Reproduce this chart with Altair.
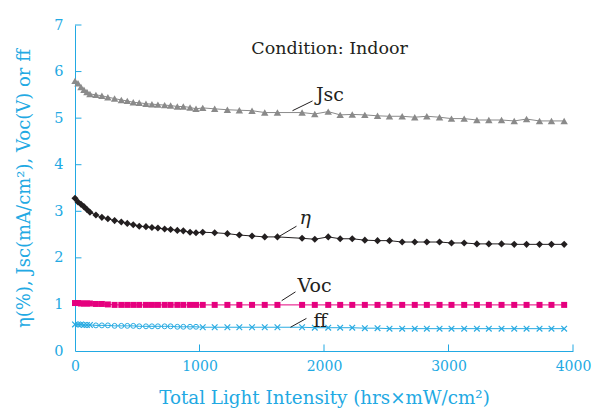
import altair as alt
import pandas as pd

# ---- data ----
intensity = [0, 24, 48, 72, 96, 120, 168, 216, 264, 318, 372, 420, 468, 516, 570, 618,
             666, 720, 768, 822, 870, 924, 972, 1026, 1122, 1224, 1320, 1422, 1524, 1626,
             1824, 1926, 2034, 2130, 2227, 2328, 2430, 2526, 2628, 2729, 2826, 2928, 3024,
             3126, 3228, 3324, 3426, 3528, 3627, 3731, 3827, 3929]

jsc = [5.80, 5.75, 5.67, 5.61, 5.56, 5.52, 5.50, 5.48, 5.45, 5.42, 5.39, 5.37, 5.34, 5.33,
       5.31, 5.30, 5.29, 5.28, 5.27, 5.25, 5.25, 5.23, 5.20, 5.22, 5.20, 5.18, 5.17, 5.16,
       5.12, 5.12, 5.12, 5.09, 5.14, 5.07, 5.08, 5.07, 5.05, 5.04, 5.04, 5.02, 5.04, 5.02,
       4.99, 4.99, 4.96, 4.96, 4.96, 4.94, 4.98, 4.94, 4.94, 4.94]

eta = [3.28, 3.20, 3.15, 3.10, 3.04, 2.98, 2.92, 2.87, 2.84, 2.80, 2.77, 2.74, 2.71, 2.68,
       2.67, 2.65, 2.64, 2.62, 2.61, 2.59, 2.58, 2.55, 2.54, 2.55, 2.54, 2.52, 2.49, 2.47,
       2.45, 2.45, 2.42, 2.40, 2.45, 2.41, 2.41, 2.38, 2.37, 2.37, 2.34, 2.34, 2.34, 2.34,
       2.32, 2.32, 2.30, 2.30, 2.30, 2.29, 2.29, 2.29, 2.29, 2.29]

voc = [1.03, 1.03, 1.02, 1.02, 1.02, 1.02, 1.01, 1.01, 1.00, 0.99, 0.99, 0.99, 0.99, 0.99,
       0.99, 0.99, 0.99, 0.99, 0.99, 0.99, 0.99, 0.99, 0.99, 0.99, 0.99, 0.99, 0.99, 0.99,
       0.99, 0.99, 0.99, 0.99, 0.99, 0.99, 0.99, 0.99, 0.99, 0.99, 0.99, 0.99, 0.99, 0.99,
       0.99, 0.99, 0.99, 0.99, 0.99, 0.99, 0.99, 0.99, 0.99, 0.99]

ff = [0.57, 0.57, 0.57, 0.56, 0.56, 0.56, 0.55, 0.55, 0.55, 0.54, 0.54, 0.54, 0.54, 0.53,
      0.53, 0.53, 0.53, 0.53, 0.53, 0.52, 0.52, 0.52, 0.52, 0.51, 0.51, 0.51, 0.51, 0.51,
      0.51, 0.51, 0.51, 0.50, 0.50, 0.50, 0.50, 0.49, 0.49, 0.48, 0.48, 0.48, 0.48, 0.48,
      0.48, 0.48, 0.48, 0.48, 0.48, 0.48, 0.48, 0.48, 0.48, 0.48]

x_ticks = [0, 1000, 2000, 3000, 4000]
y_ticks = [0, 1, 2, 3, 4, 5, 6, 7]

# annotations (data coordinates)
ann_text = ["Jsc", "η", "Voc", "ff"]
ann_tx = [1935, 1803, 1787, 1915]
ann_ty = [5.36, 2.72, 1.26, 0.51]
lead_x = [1747, 1627, 1660, 1731]
lead_y = [5.16, 2.44, 1.08, 0.51]
lead_x2 = [1908, 1779, 1771, 1859]
lead_y2 = [5.37, 2.68, 1.27, 0.70]
cond_text = "Condition: Indoor"
cond_x, cond_y = 2045, 6.37

BLUE = "#22a9e3"
FONT = "DejaVu Serif"

df = pd.DataFrame({"x": intensity, "jsc": jsc, "eta": eta, "voc": voc, "ff": ff})

xs = alt.Scale(domain=[0, 4000], nice=False)
ys = alt.Scale(domain=[0, 7], nice=False)

X = alt.X("x:Q", scale=xs, axis=alt.Axis(
    values=x_ticks, format="d", ticks=False, grid=False, domainColor=BLUE, domainWidth=1,
    labelColor=BLUE, labelFont=FONT, labelFontSize=14, labelPadding=8, labelFlush=False,
    title="Total Light Intensity (hrs×mW/cm²)", titleColor=BLUE, titleFont=FONT,
    titleFontSize=18.3, titleFontWeight="normal", titlePadding=16))


def Y(field):
    return alt.Y(field, type="quantitative", scale=ys, axis=alt.Axis(
        values=y_ticks, format="d", ticks=False, grid=False, domainColor=BLUE, domainWidth=1,
        labelColor=BLUE, labelFont=FONT, labelFontSize=14.5, labelPadding=12,
        labelFlush=False,
        title="η(%), Jsc(mA/cm²), Voc(V) or ff", titleColor=BLUE, titleFont=FONT,
        titleFontSize=18, titleFontWeight="normal", titlePadding=20))


base = alt.Chart(df)

# inward tick marks
ytick_df = pd.DataFrame({"v": y_ticks[1:]})
ytick = alt.Chart(ytick_df).mark_rule(color=BLUE, strokeWidth=1).encode(
    x=alt.datum(0, scale=xs), x2=alt.datum(52), y=alt.Y("v:Q", scale=ys))
xtick_df = pd.DataFrame({"v": x_ticks[1:]})
xtick = alt.Chart(xtick_df).mark_rule(color=BLUE, strokeWidth=1).encode(
    x=alt.X("v:Q", scale=xs), y=alt.datum(0, scale=ys), y2=alt.datum(0.14))

layers = [ytick, xtick]

series = [("jsc", "#8a8a8a", "triangle-up", 55),
          ("eta", "#231f20", "diamond", 50),
          ("voc", "#e5007e", "square", 36)]
for f, c, shp, sz in series:
    layers.append(base.mark_line(color=c, strokeWidth=1).encode(x=X, y=Y(f"{f}")))
    layers.append(base.mark_point(shape=shp, filled=True, color=c, size=sz, opacity=1)
                  .encode(x=X, y=Y(f"{f}")))

FFC = "#29abe2"
layers.append(base.mark_line(color=FFC, strokeWidth=1).encode(x=X, y=Y("ff")))
layers.append(base.transform_filter("datum.x < 150 || datum.x > 1000")
              .mark_point(shape="M-1,-1L1,1M-1,1L1,-1", filled=False, color=FFC,
                          size=32, strokeWidth=1.2, opacity=1)
              .encode(x=X, y=Y("ff")))
layers.append(base.transform_filter("datum.x >= 150 && datum.x <= 1000")
              .mark_point(shape="circle", filled=False, color=FFC,
                          size=24, strokeWidth=1, opacity=1)
              .encode(x=X, y=Y("ff")))

lead_df = pd.DataFrame({"x": lead_x, "y": lead_y, "x2": lead_x2, "y2": lead_y2})
layers.append(alt.Chart(lead_df).mark_rule(color="#231f20", strokeWidth=1).encode(
    x=alt.X("x:Q", scale=xs), y=alt.Y("y:Q", scale=ys), x2="x2:Q", y2="y2:Q"))

txt_df = pd.DataFrame({"t": ann_text, "x": ann_tx, "y": ann_ty,
                       "it": [False, True, False, False]})
layers.append(alt.Chart(txt_df).transform_filter("!datum.it").mark_text(
    font=FONT, fontSize=19, color="#231f20", align="left", baseline="alphabetic").encode(
    x=alt.X("x:Q", scale=xs), y=alt.Y("y:Q", scale=ys), text="t:N"))
layers.append(alt.Chart(txt_df).transform_filter("datum.it").mark_text(
    font=FONT, fontSize=19, fontStyle="italic", color="#231f20", align="left",
    baseline="alphabetic").encode(
    x=alt.X("x:Q", scale=xs), y=alt.Y("y:Q", scale=ys), text="t:N"))

cond_df = pd.DataFrame({"t": [cond_text], "x": [cond_x], "y": [cond_y]})
layers.append(alt.Chart(cond_df).mark_text(
    font=FONT, fontSize=17.5, color="#231f20", align="center", baseline="alphabetic").encode(
    x=alt.X("x:Q", scale=xs), y=alt.Y("y:Q", scale=ys), text="t:N"))

chart = alt.layer(*layers).properties(
    width=498, height=326,
    autosize=alt.AutoSizeParams(type="none"),
    padding={"left": 75, "top": 25, "right": 20, "bottom": 59},
    background="white",
).configure_view(stroke=None)

chart.save("out.html", embed_options={"renderer": "svg", "actions": False})
